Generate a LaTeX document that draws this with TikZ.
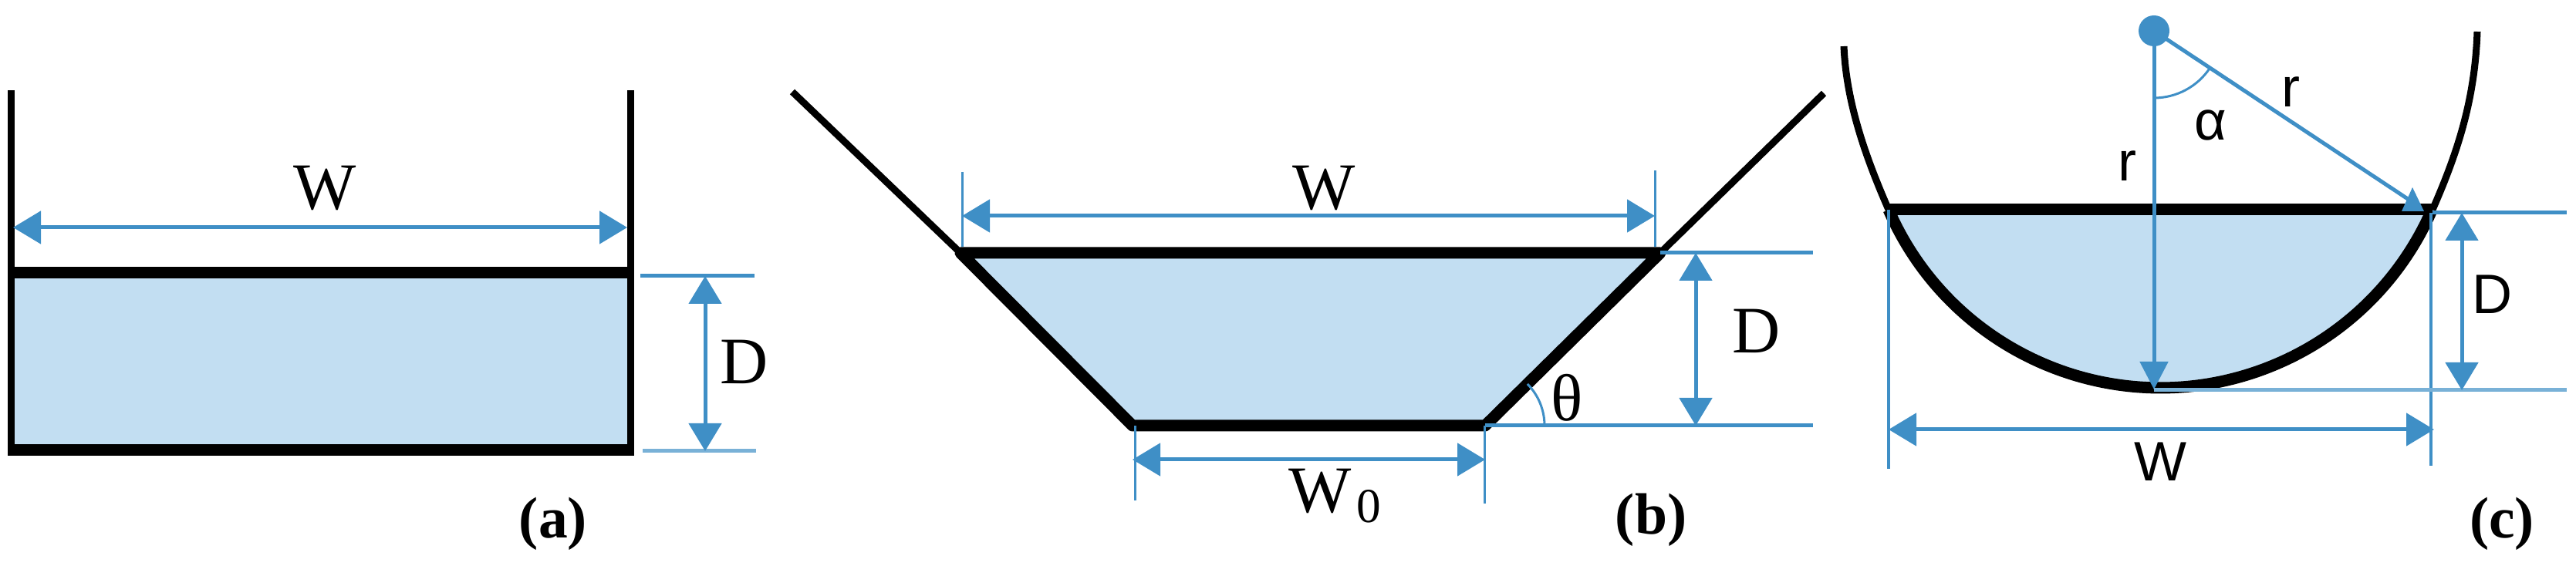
\documentclass[tikz,border=0pt]{standalone}
\usepackage{fontspec}
\setmainfont{Liberation Serif}
\setsansfont{Liberation Sans}
\usepackage{tikz}
\usetikzlibrary{positioning, calc, arrows.meta}
\definecolor{dimblue}{HTML}{3F8FC6}
\definecolor{waterblue}{HTML}{C2DEF2}
\tikzset{
    wall/.style = {line width = 0.09cm, black},
    rim/.style = {line width = 0.15cm, black, line join = round},
    dimline/.style = {line width = 0.05cm, dimblue},
    thinline/.style = {line width = 0.03cm, dimblue},
    dimarrow/.style = {dimline, {Triangle[length = 0.36cm, width = 0.42cm]}-{Triangle[length = 0.36cm, width = 0.42cm]}},
    tagtext/.style = {inner sep = 0, font = \fontsize{21.5}{24}\selectfont\bfseries},
    serifletter/.style = {inner sep = 0, font = \fontsize{24.5}{28}\selectfont},
    sansletter/.style = {inner sep = 0, font = \fontsize{20.5}{24}\selectfont\sffamily}
}
\begin{document}
\begin{tikzpicture}
    \useasboundingbox (0,0) rectangle (33.39,-7.34);
    % rectangle
    \coordinate (aWallL) at (0.15,-1.17);
    \coordinate (aWallR) at (8.17,-1.17);
    \coordinate (aTopL) at (0.15,-3.54);
    \coordinate (aTopR) at (8.17,-3.54);
    \coordinate (aBotL) at (0.15,-5.84);
    \coordinate (aBotR) at (8.17,-5.84);
    \coordinate (aFootL) at (0.15,-5.915);
    \coordinate (aFootR) at (8.17,-5.915);
    \fill[waterblue] (aTopL) -- (aTopR) -- (aBotR) -- (aBotL) -- cycle;
    \draw[wall] (aWallL) -- (aFootL);
    \draw[wall] (aWallR) -- (aFootR);
    \draw[rim] (aTopL) -- (aTopR);
    \draw[rim] (aBotL) -- (aBotR);
    \coordinate (aArrL) at (0.17,-2.95);
    \coordinate (aArrR) at (8.13,-2.95);
    \draw[dimarrow] (aArrL) -- (aArrR);
    \coordinate (aTickTopL) at (8.30,-3.58);
    \coordinate (aTickTopR) at (9.78,-3.58);
    \coordinate (aTickBotL) at (8.33,-5.85);
    \coordinate (aTickBotR) at (9.80,-5.85);
    \draw[dimline] (aTickTopL) -- (aTickTopR);
    \draw[dimline, dimblue!70] (aTickBotL) -- (aTickBotR);
    \coordinate (aArrT) at (9.14,-3.58);
    \coordinate (aArrB) at (9.14,-5.85);
    \draw[dimarrow] (aArrT) -- (aArrB);
    \node[serifletter] (aW) at (4.21,-2.44) {W};
    \node[serifletter] (aD) at (9.65,-4.69) {D};
    \node[tagtext] (aTag) at (7.17,-6.79) {(a)};
    % trapezoid
    \coordinate (bEndL) at (10.27,-1.19);
    \coordinate (bEndR) at (23.64,-1.21);
    \coordinate (bTopL) at (12.45,-3.28);
    \coordinate (bTopR) at (21.52,-3.28);
    \coordinate (bBotL) at (14.68,-5.52);
    \coordinate (bBotR) at (19.25,-5.52);
    \fill[waterblue] (bTopL) -- (bTopR) -- (bBotR) -- (bBotL) -- cycle;
    \draw[wall] (bEndL) -- (bTopL);
    \draw[wall] (bEndR) -- (bTopR);
    \draw[rim] (bTopL) -- (bTopR) -- (bBotR) -- (bBotL) -- cycle;
    \coordinate (bExtTL) at (12.47,-2.23);
    \coordinate (bExtTLb) at (12.47,-3.20);
    \coordinate (bExtTR) at (21.45,-2.21);
    \coordinate (bExtTRb) at (21.45,-3.20);
    \draw[thinline] (bExtTL) -- (bExtTLb);
    \draw[thinline] (bExtTR) -- (bExtTRb);
    \coordinate (bArrL) at (12.47,-2.80);
    \coordinate (bArrR) at (21.45,-2.80);
    \draw[dimarrow] (bArrL) -- (bArrR);
    \coordinate (bTickTop) at (23.50,-3.28);
    \coordinate (bTickBot) at (23.50,-5.52);
    \draw[dimline] (bTopR) -- (bTickTop);
    \draw[dimline] (bBotR) -- (bTickBot);
    \coordinate (bArrT) at (21.98,-3.28);
    \coordinate (bArrB) at (21.98,-5.52);
    \draw[dimarrow] (bArrT) -- (bArrB);
    \coordinate (bExtBL) at (14.71,-6.49);
    \coordinate (bExtBR) at (19.24,-6.53);
    \draw[thinline] (14.71,-5.52) -- (bExtBL);
    \draw[thinline] (19.24,-5.52) -- (bExtBR);
    \coordinate (bArrbL) at (14.68,-5.96);
    \coordinate (bArrbR) at (19.25,-5.96);
    \draw[dimarrow] (bArrbL) -- (bArrbR);
    \draw[thinline] ($(bBotR)+(0.77,0)$) arc[start angle = 0, end angle = 44.6, radius = 0.77];
    \node[serifletter] (bW) at (17.16,-2.44) {W};
    \node[serifletter] (bD) at (22.77,-4.29) {D};
    \node[serifletter] (bTheta) at (20.31,-5.16) {θ};
    \node[serifletter, anchor = center] (bWo) at (17.11,-6.37) {W};
    \node[inner sep = 0, font = \fontsize{18}{22}\selectfont, right = 0.05cm of bWo.south east, anchor = south west, yshift = -0.12cm] (bSub) {0};
    \node[tagtext] (bTag) at (21.40,-6.74) {(b)};
    % circular
    \coordinate (cDot) at (27.92,-0.40);
    \coordinate (cWallL) at (23.90,-0.60);
    \coordinate (cWallR) at (32.11,-0.41);
    \coordinate (cTopL) at (24.48,-2.72);
    \coordinate (cTopR) at (31.53,-2.72);
    \fill[waterblue] (cTopL) arc[start angle = 203.5, end angle = 336.5, radius = 3.84] -- cycle;
    \draw[wall] (cWallL) .. controls (23.93,-1.30) and (24.16,-1.99) .. (cTopL);
    \draw[wall] (cWallR) .. controls (32.08,-1.30) and (31.85,-1.99) .. (cTopR);
    \draw[rim] (cTopL) arc[start angle = 203.5, end angle = 336.5, radius = 3.84];
    \draw[rim] (cTopL) -- (cTopR);
    \fill[dimblue] (cDot) circle (0.2);
    \coordinate (cArrB) at (27.92,-5.05);
    \draw[dimline, -{Triangle[length = 0.36cm, width = 0.36cm]}] (cDot) -- (cArrB);
    \coordinate (cArrR) at (31.27,-2.62);
    \draw[dimline] (cDot) -- (cArrR);
    \fill[dimblue] (31.27,-2.43) -- (31.13,-2.74) -- (31.42,-2.74) -- cycle;
    \draw[thinline] (27.92,-1.27) arc[start angle = -90, end angle = -33.7, radius = 0.87];
    \coordinate (cExtL) at (24.48,-6.08);
    \coordinate (cExtR) at (31.51,-6.04);
    \draw[dimline, line width = 0.035cm] (cTopL) -- (cExtL);
    \draw[dimline, line width = 0.035cm] (31.51,-2.76) -- (cExtR);
    \coordinate (cTickTop) at (33.27,-2.76);
    \coordinate (cTickBot) at (33.27,-5.06);
    \draw[dimline] (31.53,-2.76) -- (cTickTop);
    \draw[dimline, dimblue!70] (27.92,-5.06) -- (cTickBot);
    \coordinate (cArrT) at (31.91,-2.76);
    \coordinate (cArrD) at (31.91,-5.06);
    \draw[dimarrow] (cArrT) -- (cArrD);
    \coordinate (cArrWL) at (24.48,-5.57);
    \coordinate (cArrWR) at (31.55,-5.57);
    \draw[dimarrow] (cArrWL) -- (cArrWR);
    \node[sansletter] (cW) at (28.00,-5.99) {W};
    \node[sansletter] (cD) at (32.30,-3.82) {D};
    \node[sansletter] (cRa) at (27.57,-2.15) {r};
    \node[sansletter] (cRb) at (29.69,-1.19) {r};
    \node[sansletter] (cAlpha) at (28.65,-1.62) {α};
    \node[tagtext] (cTag) at (32.43,-6.79) {(c)};
\end{tikzpicture}
\end{document}
